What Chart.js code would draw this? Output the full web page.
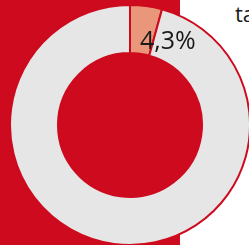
<!DOCTYPE html>
<html>
<head>
<meta charset="utf-8">
<script src="https://cdn.jsdelivr.net/npm/chart.js@4/dist/chart.umd.min.js"></script>
<style>
  html, body { margin:0; padding:0; width:249px; height:245px; overflow:hidden; background:#fff; }
  #bg { position:absolute; left:0; top:0; width:180px; height:245px; background:#cd0a1e; }
  #title { position:absolute; left:235px; top:-2px; font:22px 'Open Sans', sans-serif; color:#1a1a1a; white-space:nowrap; }
  #wrap { position:absolute; left:9px; top:4px; width:242px; height:242px; }
</style>
</head>
<body>
<div id="bg"></div>
<div id="title">tagesanteil</div>
<div id="wrap"><canvas id="donut"></canvas></div>
<script>
const labels = ['Anteil', 'Rest'];
const values = [4.3, 95.7];
const valueText = ['4,3%', ''];
const colors = ['#e9967a', '#e6e6e6'];
const red = '#cd0a1e';

// Loch in der Mitte rot füllen
const holeFill = {
  id: 'holeFill',
  beforeDatasetsDraw(chart){
    const arc = chart.getDatasetMeta(0).data[0];
    if(!arc) return;
    const ctx = chart.ctx;
    ctx.save();
    ctx.fillStyle = red;
    ctx.beginPath();
    ctx.arc(arc.x, arc.y, arc.innerRadius + 1, 0, Math.PI * 2);
    ctx.fill();
    ctx.restore();
  }
};

// Prozentlabel links-bündig ab Segmentmitte
const sliceLabel = {
  id: 'sliceLabel',
  afterDatasetsDraw(chart){
    const ctx = chart.ctx;
    chart.getDatasetMeta(0).data.forEach((arc, i) => {
      if(!valueText[i]) return;
      const p = arc.getCenterPoint();
      ctx.save();
      ctx.font = '400 25px "Open Sans", sans-serif';
      ctx.fillStyle = '#1a1a1a';
      ctx.textAlign = 'left';
      ctx.textBaseline = 'middle';
      ctx.fillText(valueText[i], p.x - 3, p.y + 12);
      ctx.restore();
    });
  }
};

new Chart(document.getElementById('donut'), {
  type: 'doughnut',
  data: {
    labels,
    datasets: [{
      data: values,
      backgroundColor: colors,
      borderColor: red,
      borderWidth: 2
    }]
  },
  options: {
    responsive: true,
    maintainAspectRatio: false,
    animation: false,
    cutout: '60%',
    plugins: { legend: { display: false }, tooltip: { enabled: false } }
  },
  plugins: [holeFill, sliceLabel]
});
</script>
</body>
</html>
